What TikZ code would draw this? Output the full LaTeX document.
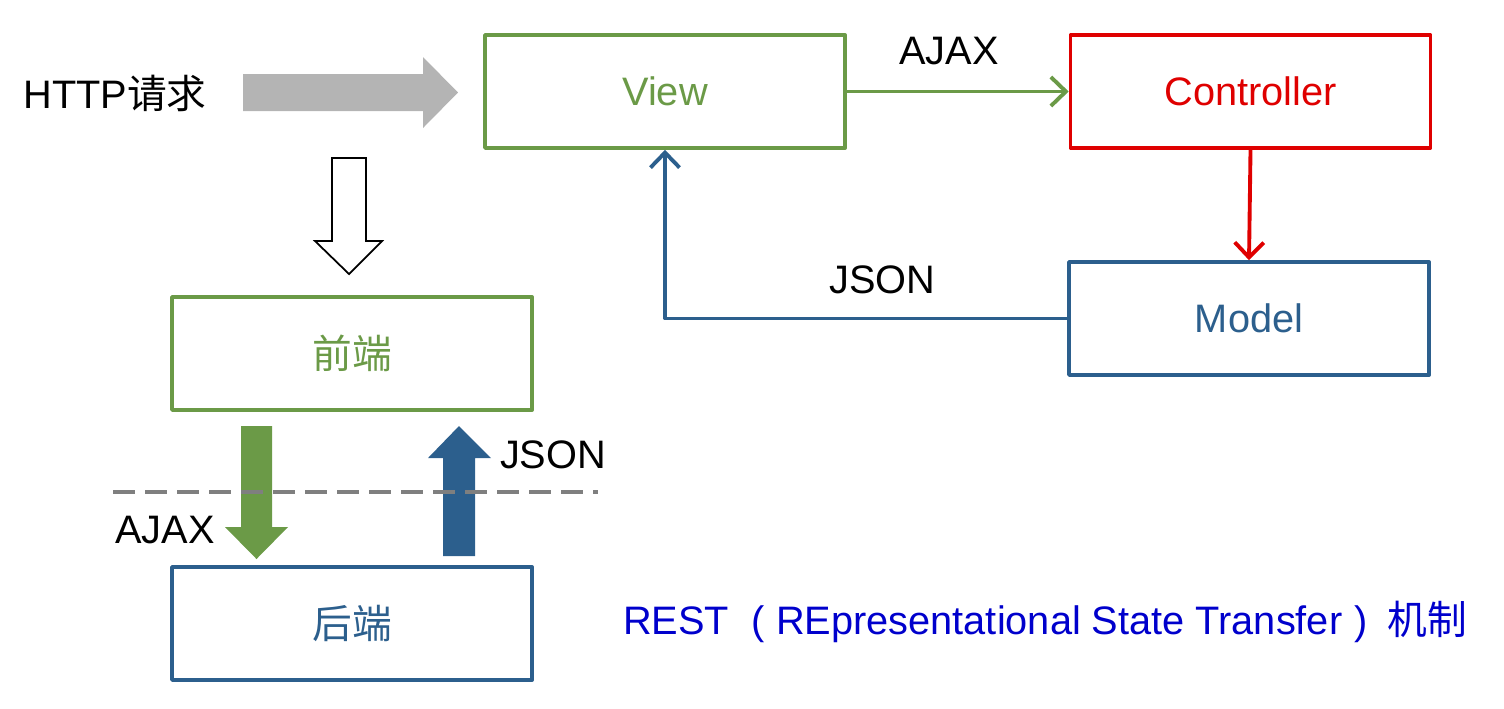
\documentclass[tikz,border=0pt]{standalone}
\usepackage{fontspec}
\usepackage{tikz}
\setmainfont{Liberation Sans}
\newfontfamily\cjk{Noto Sans CJK SC}
\usetikzlibrary{arrows.meta}
\usetikzlibrary{positioning}
\definecolor{grnview}{HTML}{6B9A47}
\definecolor{redctrl}{HTML}{DF0000}
\definecolor{bluemod}{HTML}{2C5F8D}
\definecolor{grayarr}{HTML}{B4B4B4}
\definecolor{graydash}{HTML}{7F7F7F}
\definecolor{restblue}{HTML}{0000CC}
\tikzstyle{every node}=[font=\fontsize{11.3}{13}\selectfont]
\tikzset{box/.style={draw,line width=1pt,minimum width=3.6cm,minimum height=1.13cm}}

\begin{document}
\begin{tikzpicture}[line cap=round,line join=round,>={Straight Barb[length=1.5mm,width=2.9mm]},x=0.01cm,y=-0.01cm]
            \useasboundingbox (0,0) rectangle (1504,708);
            % boxes
            \node [box,draw=grnview,text=grnview] (view) at (665,91.5) {View};
            \node [box,draw=redctrl,text=redctrl] (ctrl) at (1250.5,91.5) {Controller};
            \node [box,draw=bluemod,text=bluemod] (model) at (1249,318.5) {Model};
            \node [box,draw=grnview,text=grnview] (front) at (352,353.5) {\cjk 前端};
            \node [box,draw=bluemod,text=bluemod] (back) at (352,623.5) {\cjk 后端};
            \node (http) at (115,93) {HTTP{\cjk 请求}};
            \node [text=restblue] (rest) at (1045,622) {REST\hspace{0.55em}(\hspace{0.3em}REpresentational State Transfer\hspace{0.3em})\hspace{0.5em}{\cjk 机制}};
            % connectors
            \draw [->,line width=1.1pt,color=grnview] (view) -- (ctrl) node [pos=0.46,above=0.13cm,text=black]{AJAX};
            \draw [->,line width=1.1pt,color=redctrl] (ctrl.south) -- (model.north);
            \draw [->,line width=1.1pt,color=bluemod] (model.west) -| (view.south) node [pos=0.23,above=0.11cm,text=black]{JSON};
            % block arrows
            \fill [grayarr] (243,74) -- (423,74) -- (423,57) -- (458,92.5) -- (423,128) -- (423,111) -- (243,111) -- cycle;
            \draw [line width=0.5pt,line join=miter] (332,158) -- (366,158) -- (366,241) -- (382,241) -- (349,274) -- (315,241) -- (332,241) -- cycle;
            \fill [grnview] (241,426) -- (272,426) -- (272,527) -- (288,527) -- (256.5,559) -- (225,527) -- (241,527) -- cycle;
            \fill [bluemod] (443,556) -- (475,556) -- (475,458) -- (491,458) -- (459,426) -- (428,458) -- (443,458) -- cycle;
            \draw [line width=0.9pt,line cap=butt,color=graydash,dash pattern=on 0.22cm off 0.1cm] (113,492) -- (598,492);
            \node (jsonup) at (553,455) {JSON};
            \node (ajaxdown) at (165,530) {AJAX};
\end{tikzpicture}
\end{document}
